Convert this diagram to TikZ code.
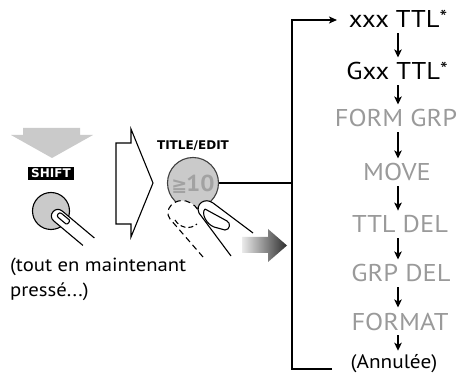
\documentclass[tikz,border=0pt]{standalone}
\usepackage{fontspec}
\setmainfont{PT Sans}[FakeStretch=1.09]
\newfontfamily\dvsans{DejaVu Sans}
\usetikzlibrary{arrows.meta}
\definecolor{menugrey}{HTML}{9A9A9A}
\definecolor{keygrey}{HTML}{CACACA}
\definecolor{symgrey}{HTML}{A2A2A2}
\begin{document}
\begin{tikzpicture}[x=1pt,y=-1pt,
  conn/.style={line width=1.8pt},
  stepline/.style={line width=1.7pt,-{Stealth[length=8pt,width=7.5pt,inset=2pt]},
    shorten <=5pt, shorten >=5pt},
  menu/.style={font=\fontsize{24.3}{25}\selectfont, inner sep=0pt, anchor=base},
  menuoff/.style={menu, text=menugrey},
  finger/.style={line width=1.1pt, line join=round}]
\useasboundingbox (0,0) rectangle (466,374);

% light grey push arrow above SHIFT
\fill[keygrey] (23,128) -- (80,128) -- (80,135) -- (93,135) -- (52,158)
  -- (11,135) -- (23,135) -- cycle;

% SHIFT label and key
\node[fill=black, text=white, inner sep=0pt, minimum width=46pt, minimum height=13pt,
  font=\dvsans\bfseries\fontsize{12}{12}\selectfont] (shift) at (51,173.5) {SHIFT};
\node[circle, draw=black, line width=1.1pt, fill=keygrey, minimum size=37pt,
  inner sep=0pt] (shiftkey) at (51,211) {};

% finger on SHIFT
\fill[white] (94.4,238) -- (62.2,211) .. controls (55.5,205.4) and (47.1,215.4) ..
  (53.8,221) -- (82.9,245.4) -- cycle;
\draw[finger] (94.4,238) -- (62.2,211) .. controls (55.5,205.4) and (47.1,215.4) ..
  (53.8,221) -- (82.9,245.4);
\draw[finger] (69.2,219.8) -- (61.5,213.4) .. controls (59.2,211.4) and (55.8,215.5) ..
  (58.1,217.4) -- (65.8,223.8) .. controls (67.3,225.1) and (70.7,221.1) .. (69.2,219.8);

% hollow arrow between the two steps
\draw[line width=1.1pt, line join=miter] (116,143) -- (131,143) -- (131,129) -- (153,183)
  -- (131,237) -- (131,224) -- (116,224) -- cycle;

% TITLE/EDIT key
\node[font=\dvsans\bfseries\fontsize{12}{12}\selectfont, inner sep=0pt] (tlabel)
  at (193,146) {TITLE/EDIT};
\node[circle, draw=black!75, line width=1.1pt, fill=keygrey, minimum size=51pt,
  inner sep=0pt] (btn) at (193,183) {};
\node[inner sep=0pt, anchor=base, text=symgrey] (ten) at (193,192)
  {{\dvsans\bfseries\fontsize{19}{19}\selectfont ≧}\kern-1pt{\bfseries\fontsize{23}{23}\selectfont 10}};

% dashed ghost finger (released position)
\fill[white] (203,257) -- (170,219) .. controls (163,209) and (175,198) .. (186,201)
  .. controls (193,203) and (198,208) .. (199,213) -- (212,250) -- cycle;
\draw[finger, dash pattern=on 6pt off 4pt] (203,257) -- (170,219)
  .. controls (163,209) and (175,198) .. (186,201) .. controls (193,203) and (198,208) .. (199,213);
\draw[finger, dash pattern=on 5pt off 3pt] (175,220) .. controls (180,228) and (190,230) .. (197,224);

% finger pressing TITLE/EDIT
\fill[white] (253,233) -- (213,203) .. controls (205,197) and (195,204) .. (199,213)
  -- (231,256) -- cycle;
\draw[finger] (253,233) -- (213,203) .. controls (205,197) and (195,204) .. (199,213)
  -- (231,256);
\draw[finger] (205,209) -- (227,221) .. controls (231,223) and (230,230) .. (225,230)
  -- (214,227) .. controls (206,224) and (201,213) .. (205,209);

% dark shaded arrow
\shade[left color=black!8, right color=black!82] (242,237) -- (268,237) -- (268,229)
  -- (287,245.5) -- (268,262) -- (268,253) -- (242,253) -- cycle;

% note under the SHIFT key
\node[inner sep=0pt, anchor=base west, align=left,
  font=\fontsize{19}{25}\selectfont] (note) at (10,297)
  {(tout en maintenant\\pressé...)};

% menu sequence
\node[menu] (m1) at (398,28) {xxx TTL\raisebox{3pt}{\fontsize{20}{20}\selectfont *}};
\node[menu] (m2) at (397,80) {Gxx TTL\raisebox{3pt}{\fontsize{20}{20}\selectfont *}};
\node[menuoff] (m3) at (396,127) {FORM GRP};
\node[menuoff] (m4) at (397,181) {MOVE};
\node[menuoff] (m5) at (400,233) {TTL DEL};
\node[menuoff] (m6) at (401,282) {GRP DEL};
\node[menuoff] (m7) at (400,330) {FORMAT};
\node[menu, font=\fontsize{19.5}{19.5}\selectfont] (m8) at (394,368) {(Annulée)};

\draw[stepline] (m1.south -| 398,0) -- (m2.north -| 398,0);
\draw[stepline] (m2.south -| 398,0) -- (m3.north -| 398,0);
\draw[stepline] (m3.south -| 398,0) -- (m4.north -| 398,0);
\draw[stepline] (m4.south -| 398,0) -- (m5.north -| 398,0);
\draw[stepline] (m5.south -| 398,0) -- (m6.north -| 398,0);
\draw[stepline] (m6.south -| 398,0) -- (m7.north -| 398,0);
\draw[stepline, shorten >=3pt] (m7.south -| 398,0) -- (m8.north -| 398,0);

% loop bracket
\coordinate (brx) at (292,183);
\coordinate (loopend) at (332,369);
\draw[conn] (btn.east) -- (brx);
\draw[conn, -{Stealth[length=8pt,width=7pt,inset=2pt]}, line join=miter]
  (loopend) -- (loopend -| brx) -- (brx |- 0,20) -- (337,20);
\end{tikzpicture}
\end{document}
